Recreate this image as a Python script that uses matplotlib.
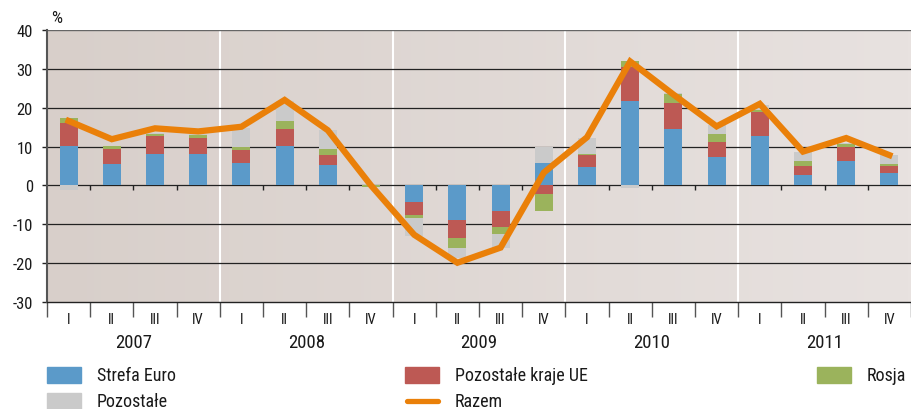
import matplotlib
matplotlib.use('Agg')
import matplotlib.pyplot as plt
import numpy as np
from matplotlib.colors import LinearSegmentedColormap
from matplotlib.patches import Rectangle
from matplotlib.lines import Line2D

years = ['2007', '2008', '2009', '2010', '2011']
quarters = ['I', 'II', 'III', 'IV']

# stacked components, %
strefa_euro = [10.2, 5.5, 8.0, 8.0,  5.9, 10.2, 5.2, 0.0,  -4.2, -9.0, -6.6, 5.8,  4.8, 21.6, 14.5, 7.4,  12.6, 2.8, 6.3, 3.2]
pozostale_ue = [5.9, 3.9, 4.6, 4.3,  3.1, 4.4, 2.7, 0.0,  -3.4, -4.6, -4.0, -2.2,  3.1, 8.9, 6.7, 3.9,  6.2, 2.3, 3.6, 1.8]
rosja = [1.25, 0.7, 0.7, 0.7,  0.9, 2.0, 1.5, -0.3,  -0.8, -2.4, -1.8, -4.4,  0.3, 1.6, 2.3, 1.9,  0.6, 1.2, 0.7, 0.5]
pozostale = [-1.2, 0.0, 0.3, 0.2,  5.0, 5.0, 4.8, 0.0,  -4.7, -2.7, -3.7, 4.2,  4.0, -0.6, 0.4, 2.3,  1.2, 2.2, 0.3, 2.3]
razem = [16.6, 11.9, 14.7, 13.9,  15.1, 22.0, 14.2, 0.0,  -12.7, -19.9, -16.0, 3.3,  12.4, 31.9, 23.4, 15.2,  21.0, 8.7, 12.2, 7.8]

series = [('Strefa Euro', strefa_euro, '#5b9ac9'),
          ('Pozostałe kraje UE', pozostale_ue, '#bd5954'),
          ('Rosja', rosja, '#9bb35c'),
          ('Pozostałe', pozostale, '#cacaca')]
line_color = '#ea8009'

plt.rcParams['font.family'] = ['Roboto Condensed', 'Liberation Sans Narrow', 'DejaVu Sans']
plt.rcParams['axes.unicode_minus'] = False
plt.rcParams['text.color'] = '#1a1a1a'
plt.rcParams['xtick.color'] = '#1a1a1a'
plt.rcParams['ytick.color'] = '#1a1a1a'

W, H = 911, 410
fig = plt.figure(figsize=(W / 100, H / 100), dpi=100)
ax = fig.add_axes([47 / W, (H - 303) / H, (W - 47) / W, (303 - 31) / H])

n = len(razem)
x = np.arange(n) + 0.5

# background gradient
bg = LinearSegmentedColormap.from_list('bg', ['#d8cfca', '#e8e2e0'])
ax.imshow(np.linspace(0, 1, 256).reshape(1, -1), extent=[0, n, -30, 40],
          aspect='auto', cmap=bg, zorder=0)
ax.vlines([4, 8, 12, 16], -30, 40, color='white', lw=1.5, zorder=0.5)

for v in range(-20, 40, 10):
    ax.axhline(v, color='#222222', lw=0.9, zorder=1)
ax.axhline(40, color='#666666', lw=1.0, zorder=1)

# small ticks on the zero line
inner = [b for b in range(1, n) if b % 4 != 0]
ax.vlines(inner, -1.1, 0, color='#222222', lw=1, zorder=1)

pos = np.zeros(n)
neg = np.zeros(n)
for name, vals, col in series:
    vals = np.array(vals)
    bottom = np.where(vals >= 0, pos, neg)
    ax.bar(x, vals, width=0.42, bottom=bottom, color=col, zorder=2)
    pos = pos + np.where(vals > 0, vals, 0)
    neg = neg + np.where(vals < 0, vals, 0)

ax.plot(x, razem, color=line_color, lw=4.5, solid_joinstyle='miter', zorder=3)

ax.set_xlim(0, n)
ax.set_ylim(-30, 40)
for s in ['top', 'right']:
    ax.spines[s].set_visible(False)
ax.spines['left'].set_color('#555555')
ax.spines['left'].set_linewidth(1.5)
ax.spines['bottom'].set_color('#222222')
ax.spines['bottom'].set_linewidth(1)

ax.set_yticks(range(-30, 41, 10))
ax.tick_params(axis='y', length=3.6, width=1, color='#222222', pad=6.5, labelsize=12)

ax.set_xticks(range(0, n + 1))
ax.set_xticklabels([])
ax.tick_params(axis='x', which='major', length=11, width=1, color='#555555')
ax.set_xticks(x, minor=True)
ax.set_xticklabels(quarters * len(years), minor=True)
ax.tick_params(axis='x', which='minor', length=0, pad=7, labelsize=10.5)

for i, yr in enumerate(years):
    ax.annotate(yr, xy=(4 * i + 2, 0), xycoords=('data', 'axes fraction'),
                xytext=(0, -28.8), textcoords='offset points',
                ha='center', va='center', fontsize=13.5)

fig.text(51 / W, (H - 26) / H, '%', fontsize=12.5, va='bottom')

# legend, laid out as in the source
legend_items = [('Strefa Euro', '#5b9ac9', 'patch', 47, 376),
                ('Pozostałe kraje UE', '#bd5954', 'patch', 405, 376),
                ('Rosja', '#9bb35c', 'patch', 817, 376),
                ('Pozostałe', '#cacaca', 'patch', 47, 402),
                ('Razem', line_color, 'line', 405, 402)]
for label, col, kind, lx, ly in legend_items:
    if kind == 'patch':
        fig.add_artist(Rectangle((lx / W, (H - ly - 8) / H), 34 / W, 16 / H,
                                 transform=fig.transFigure, color=col))
    else:
        fig.add_artist(Line2D([(lx + 2) / W, (lx + 33) / W], [(H - ly) / H] * 2,
                              transform=fig.transFigure, color=col, lw=3.8,
                              solid_capstyle='round'))
    fig.text((lx + 50) / W, (H - ly) / H, label, va='center', fontsize=13)

fig.savefig('out.png', dpi=100)
